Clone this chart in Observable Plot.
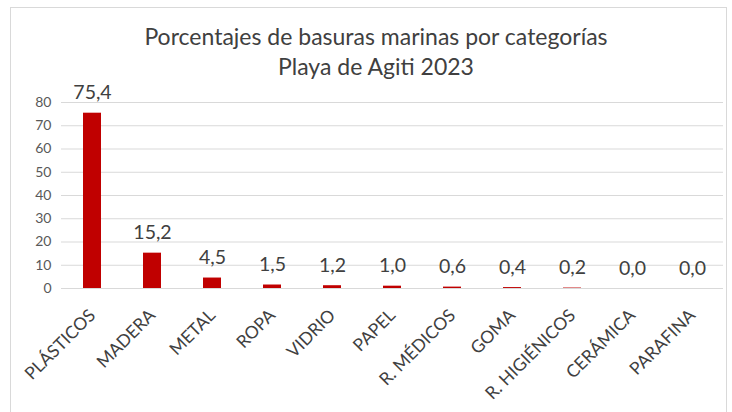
<!DOCTYPE html>
<html>
<head>
<meta charset="utf-8">
<script src="https://cdn.jsdelivr.net/npm/d3@7"></script>
<script src="https://cdn.jsdelivr.net/npm/@observablehq/plot@0.6"></script>
<style>
  html, body { margin: 0; padding: 0; background: #fff; }
  #wrap { position: relative; width: 732px; height: 412px; overflow: hidden; font-family: Lato, "Open Sans", sans-serif; }
  #frame { position: absolute; left: 10px; top: 7px; width: 717px; height: 420px; border: 1px solid #d9d9d9; box-sizing: border-box; }
  #title { position: absolute; left: 0; top: 0; width: 732px; text-align: center; color: #404040; font-size: 23px; line-height: 28px; }
  #title div { position: absolute; width: 100%; }
  #chart { position: absolute; left: 0; top: 70px; }
</style>
</head>
<body>
<div id="wrap">
  <div id="frame"></div>
  <div id="title">
    <div style="top:22px; left:10px">Porcentajes de basuras marinas por categorías</div>
    <div style="top:52px; left:10px">Playa de Agiti 2023</div>
  </div>
  <div id="chart"></div>
</div>
<script>
const categories = ["PLÁSTICOS", "MADERA", "METAL", "ROPA", "VIDRIO", "PAPEL", "R. MÉDICOS", "GOMA", "R. HIGIÉNICOS", "CERÁMICA", "PARAFINA"];
const values = [75.4, 15.2, 4.5, 1.5, 1.2, 1.0, 0.6, 0.4, 0.2, 0.0, 0.0];
const yTicks = [0, 10, 20, 30, 40, 50, 60, 70, 80];

const data = categories.map((c, i) => ({category: c, value: values[i]}));
const fmt = v => v.toFixed(1).replace(".", ",");

const chart = Plot.plot({
  width: 732,
  height: 342,
  marginLeft: 61,
  marginRight: 9,
  marginTop: 32,
  marginBottom: 124,
  style: {fontFamily: "Lato, 'Open Sans', sans-serif", background: "transparent", overflow: "visible"},
  x: {domain: categories, paddingInner: 0.7, paddingOuter: 0.35, label: null, axis: null},
  y: {domain: [0, 80], label: null, axis: null},
  marks: [
    Plot.ruleY(yTicks, {stroke: "#d9d9d9", strokeWidth: 1}),
    Plot.axisY({ticks: yTicks, tickSize: 0, tickPadding: 10, fontSize: 14, fill: "#595959", label: null}),
    Plot.barY(data, {x: "category", y: "value", fill: "#c00000"}),
    Plot.text(data, {x: "category", y: "value", text: d => fmt(d.value), dy: -20, fontSize: 19.5, fill: "#404040"}),
    Plot.text(categories, {x: d => d, frameAnchor: "bottom", rotate: -45, textAnchor: "end", lineAnchor: "middle", dx: 0, dy: 24, fontSize: 17.5, fill: "#404040"})
  ]
});
document.getElementById("chart").appendChild(chart);
</script>
</body>
</html>
